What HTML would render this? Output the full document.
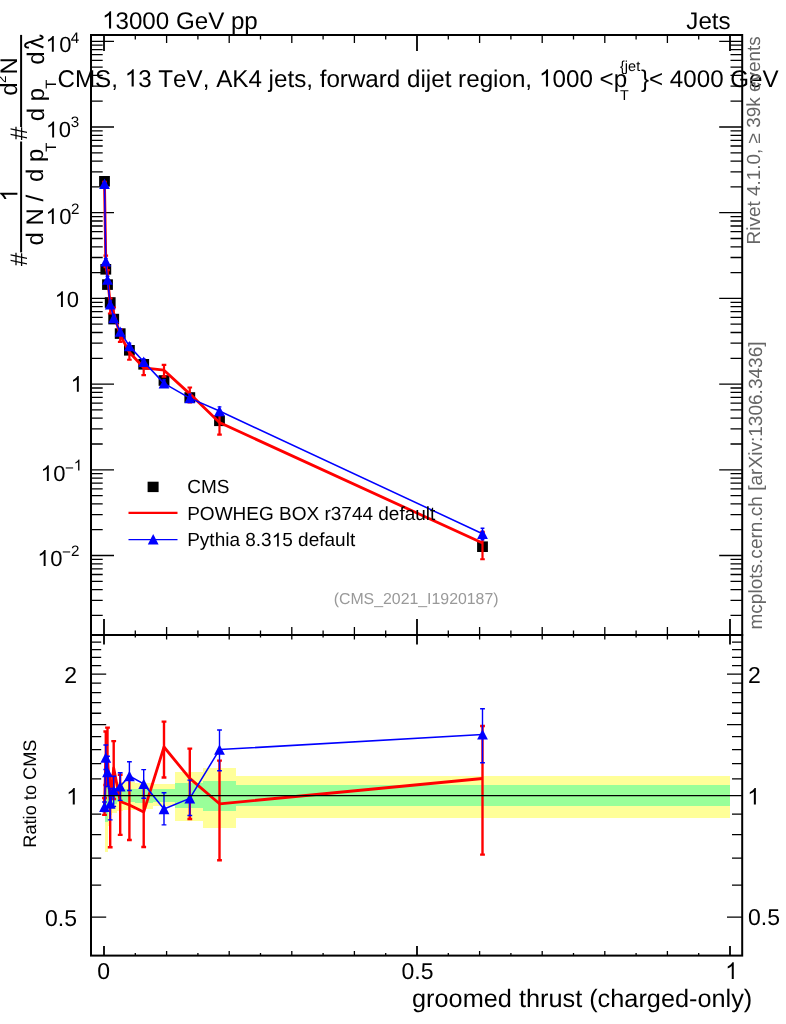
<!DOCTYPE html>
<html><head><meta charset="utf-8"><title>plot</title>
<style>
html,body{margin:0;padding:0;background:#fff;overflow:hidden}
svg{display:block;will-change:transform}
text{font-family:"Liberation Sans",sans-serif;fill:#000;font-kerning:none;text-rendering:geometricPrecision}
</style></head><body>
<svg width="786" height="1024" viewBox="0 0 786 1024">
<rect width="786" height="1024" fill="#fff"/>
<g shape-rendering="crispEdges">
<rect x="105.2" y="762" width="2.30" height="90.30" fill="#ffff99"/>
<rect x="107.5" y="776" width="1.50" height="50.00" fill="#ffff99"/>
<rect x="109.0" y="779" width="2.50" height="36.00" fill="#ffff99"/>
<rect x="111.5" y="780.5" width="5.00" height="32.00" fill="#ffff99"/>
<rect x="116.5" y="781.5" width="6.90" height="29.80" fill="#ffff99"/>
<rect x="123.4" y="781.8" width="11.95" height="28.00" fill="#ffff99"/>
<rect x="135.35" y="782.8" width="17.55" height="26.20" fill="#ffff99"/>
<rect x="152.9" y="784.3" width="22.20" height="21.90" fill="#ffff99"/>
<rect x="175.1" y="772.3" width="28.00" height="48.90" fill="#ffff99"/>
<rect x="203.1" y="767.9" width="32.70" height="59.90" fill="#ffff99"/>
<rect x="235.8" y="775.5" width="494.20" height="42.60" fill="#ffff99"/>
<rect x="105.2" y="781" width="2.30" height="40.50" fill="#99ff99"/>
<rect x="107.5" y="786" width="1.50" height="20.00" fill="#99ff99"/>
<rect x="109.0" y="787" width="2.50" height="17.50" fill="#99ff99"/>
<rect x="111.5" y="788" width="5.00" height="15.50" fill="#99ff99"/>
<rect x="116.5" y="789" width="6.90" height="13.30" fill="#99ff99"/>
<rect x="123.4" y="789.2" width="11.95" height="12.80" fill="#99ff99"/>
<rect x="135.35" y="788.6" width="17.55" height="14.10" fill="#99ff99"/>
<rect x="152.9" y="788.9" width="22.20" height="13.30" fill="#99ff99"/>
<rect x="175.1" y="783.2" width="28.00" height="24.70" fill="#99ff99"/>
<rect x="203.1" y="781.1" width="32.70" height="29.60" fill="#99ff99"/>
<rect x="235.8" y="785.3" width="494.20" height="20.70" fill="#99ff99"/>
</g>
<g stroke="#000" fill="none" stroke-width="2" stroke-linecap="square">
<rect x="91.0" y="35.0" width="651.2" height="920.6"/>
<line x1="91.0" y1="635.0" x2="742.2" y2="635.0"/>
</g>
<g stroke="#000" stroke-width="1.3" fill="none">
<path d="M104.00 35.0v16 M104.00 619.0V644.5 M104.00 955.6v-9.5" stroke-width="1.8"/>
<path d="M135.30 35.0v4.5 M135.30 630.5V637.5 M135.30 955.6v-2.5"/>
<path d="M166.60 35.0v8 M166.60 627.0V639.5 M166.60 955.6v-4.5"/>
<path d="M197.90 35.0v4.5 M197.90 630.5V637.5 M197.90 955.6v-2.5"/>
<path d="M229.20 35.0v8 M229.20 627.0V639.5 M229.20 955.6v-4.5"/>
<path d="M260.50 35.0v4.5 M260.50 630.5V637.5 M260.50 955.6v-2.5"/>
<path d="M291.80 35.0v8 M291.80 627.0V639.5 M291.80 955.6v-4.5"/>
<path d="M323.10 35.0v4.5 M323.10 630.5V637.5 M323.10 955.6v-2.5"/>
<path d="M354.40 35.0v8 M354.40 627.0V639.5 M354.40 955.6v-4.5"/>
<path d="M385.70 35.0v4.5 M385.70 630.5V637.5 M385.70 955.6v-2.5"/>
<path d="M417.00 35.0v16 M417.00 619.0V644.5 M417.00 955.6v-9.5" stroke-width="1.8"/>
<path d="M448.30 35.0v4.5 M448.30 630.5V637.5 M448.30 955.6v-2.5"/>
<path d="M479.60 35.0v8 M479.60 627.0V639.5 M479.60 955.6v-4.5"/>
<path d="M510.90 35.0v4.5 M510.90 630.5V637.5 M510.90 955.6v-2.5"/>
<path d="M542.20 35.0v8 M542.20 627.0V639.5 M542.20 955.6v-4.5"/>
<path d="M573.50 35.0v4.5 M573.50 630.5V637.5 M573.50 955.6v-2.5"/>
<path d="M604.80 35.0v8 M604.80 627.0V639.5 M604.80 955.6v-4.5"/>
<path d="M636.10 35.0v4.5 M636.10 630.5V637.5 M636.10 955.6v-2.5"/>
<path d="M667.40 35.0v8 M667.40 627.0V639.5 M667.40 955.6v-4.5"/>
<path d="M698.70 35.0v4.5 M698.70 630.5V637.5 M698.70 955.6v-2.5"/>
<path d="M730.00 35.0v16 M730.00 619.0V644.5 M730.00 955.6v-9.5" stroke-width="1.8"/>
<path d="M91.0 615.40h11.7 M742.2 615.40h-11.7"/>
<path d="M91.0 600.31h11.7 M742.2 600.31h-11.7"/>
<path d="M91.0 589.60h11.7 M742.2 589.60h-11.7"/>
<path d="M91.0 581.30h11.7 M742.2 581.30h-11.7"/>
<path d="M91.0 574.51h11.7 M742.2 574.51h-11.7"/>
<path d="M91.0 568.78h11.7 M742.2 568.78h-11.7"/>
<path d="M91.0 563.81h11.7 M742.2 563.81h-11.7"/>
<path d="M91.0 559.42h11.7 M742.2 559.42h-11.7"/>
<path d="M91.0 555.50h23 M742.2 555.50h-23"/>
<path d="M91.0 529.70h11.7 M742.2 529.70h-11.7"/>
<path d="M91.0 514.61h11.7 M742.2 514.61h-11.7"/>
<path d="M91.0 503.90h11.7 M742.2 503.90h-11.7"/>
<path d="M91.0 495.60h11.7 M742.2 495.60h-11.7"/>
<path d="M91.0 488.81h11.7 M742.2 488.81h-11.7"/>
<path d="M91.0 483.08h11.7 M742.2 483.08h-11.7"/>
<path d="M91.0 478.11h11.7 M742.2 478.11h-11.7"/>
<path d="M91.0 473.72h11.7 M742.2 473.72h-11.7"/>
<path d="M91.0 469.80h23 M742.2 469.80h-23"/>
<path d="M91.0 444.00h11.7 M742.2 444.00h-11.7"/>
<path d="M91.0 428.91h11.7 M742.2 428.91h-11.7"/>
<path d="M91.0 418.20h11.7 M742.2 418.20h-11.7"/>
<path d="M91.0 409.90h11.7 M742.2 409.90h-11.7"/>
<path d="M91.0 403.11h11.7 M742.2 403.11h-11.7"/>
<path d="M91.0 397.38h11.7 M742.2 397.38h-11.7"/>
<path d="M91.0 392.41h11.7 M742.2 392.41h-11.7"/>
<path d="M91.0 388.02h11.7 M742.2 388.02h-11.7"/>
<path d="M91.0 384.10h23 M742.2 384.10h-23"/>
<path d="M91.0 358.30h11.7 M742.2 358.30h-11.7"/>
<path d="M91.0 343.21h11.7 M742.2 343.21h-11.7"/>
<path d="M91.0 332.50h11.7 M742.2 332.50h-11.7"/>
<path d="M91.0 324.20h11.7 M742.2 324.20h-11.7"/>
<path d="M91.0 317.41h11.7 M742.2 317.41h-11.7"/>
<path d="M91.0 311.68h11.7 M742.2 311.68h-11.7"/>
<path d="M91.0 306.71h11.7 M742.2 306.71h-11.7"/>
<path d="M91.0 302.32h11.7 M742.2 302.32h-11.7"/>
<path d="M91.0 298.40h23 M742.2 298.40h-23"/>
<path d="M91.0 272.60h11.7 M742.2 272.60h-11.7"/>
<path d="M91.0 257.51h11.7 M742.2 257.51h-11.7"/>
<path d="M91.0 246.80h11.7 M742.2 246.80h-11.7"/>
<path d="M91.0 238.50h11.7 M742.2 238.50h-11.7"/>
<path d="M91.0 231.71h11.7 M742.2 231.71h-11.7"/>
<path d="M91.0 225.98h11.7 M742.2 225.98h-11.7"/>
<path d="M91.0 221.01h11.7 M742.2 221.01h-11.7"/>
<path d="M91.0 216.62h11.7 M742.2 216.62h-11.7"/>
<path d="M91.0 212.70h23 M742.2 212.70h-23"/>
<path d="M91.0 186.90h11.7 M742.2 186.90h-11.7"/>
<path d="M91.0 171.81h11.7 M742.2 171.81h-11.7"/>
<path d="M91.0 161.10h11.7 M742.2 161.10h-11.7"/>
<path d="M91.0 152.80h11.7 M742.2 152.80h-11.7"/>
<path d="M91.0 146.01h11.7 M742.2 146.01h-11.7"/>
<path d="M91.0 140.28h11.7 M742.2 140.28h-11.7"/>
<path d="M91.0 135.31h11.7 M742.2 135.31h-11.7"/>
<path d="M91.0 130.92h11.7 M742.2 130.92h-11.7"/>
<path d="M91.0 127.00h23 M742.2 127.00h-23"/>
<path d="M91.0 101.20h11.7 M742.2 101.20h-11.7"/>
<path d="M91.0 86.11h11.7 M742.2 86.11h-11.7"/>
<path d="M91.0 75.40h11.7 M742.2 75.40h-11.7"/>
<path d="M91.0 67.10h11.7 M742.2 67.10h-11.7"/>
<path d="M91.0 60.31h11.7 M742.2 60.31h-11.7"/>
<path d="M91.0 54.58h11.7 M742.2 54.58h-11.7"/>
<path d="M91.0 49.61h11.7 M742.2 49.61h-11.7"/>
<path d="M91.0 45.22h11.7 M742.2 45.22h-11.7"/>
<path d="M91.0 41.30h23 M742.2 41.30h-23"/>
<path d="M91.0 917.07h15.2 M742.2 917.07h-15.2"/>
<path d="M91.0 885.12h10.2 M742.2 885.12h-10.2"/>
<path d="M91.0 858.10h10.2 M742.2 858.10h-10.2"/>
<path d="M91.0 834.70h10.2 M742.2 834.70h-10.2"/>
<path d="M91.0 814.06h10.2 M742.2 814.06h-10.2"/>
<path d="M91.0 778.90h10.2 M742.2 778.90h-10.2"/>
<path d="M91.0 763.65h10.2 M742.2 763.65h-10.2"/>
<path d="M91.0 749.62h10.2 M742.2 749.62h-10.2"/>
<path d="M91.0 736.64h10.2 M742.2 736.64h-10.2"/>
<path d="M91.0 724.55h15.2 M742.2 724.55h-15.2"/>
<path d="M91.0 713.24h10.2 M742.2 713.24h-10.2"/>
<path d="M91.0 702.61h10.2 M742.2 702.61h-10.2"/>
<path d="M91.0 692.60h10.2 M742.2 692.60h-10.2"/>
<path d="M91.0 683.12h10.2 M742.2 683.12h-10.2"/>
<path d="M91.0 674.13h15.2 M742.2 674.13h-15.2"/>
<path d="M91.0 665.58h10.2 M742.2 665.58h-10.2"/>
<path d="M91.0 657.43h10.2 M742.2 657.43h-10.2"/>
<path d="M91.0 649.64h10.2 M742.2 649.64h-10.2"/>
<path d="M91.0 642.18h10.2 M742.2 642.18h-10.2"/>
</g>
<clipPath id="cm"><rect x="92" y="36" width="649" height="598"/></clipPath>
<clipPath id="cr"><rect x="92" y="636" width="649" height="318.6"/></clipPath>
<g clip-path="url(#cm)">
<rect x="99.10" y="176.00" width="10.8" height="10.6" fill="#000"/>
<rect x="100.40" y="264.00" width="10.8" height="10.6" fill="#000"/>
<rect x="102.10" y="279.30" width="10.8" height="10.6" fill="#000"/>
<rect x="104.80" y="297.20" width="10.8" height="10.6" fill="#000"/>
<rect x="108.30" y="313.80" width="10.8" height="10.6" fill="#000"/>
<rect x="114.80" y="328.30" width="10.8" height="10.6" fill="#000"/>
<rect x="124.00" y="345.00" width="10.8" height="10.6" fill="#000"/>
<rect x="138.30" y="359.00" width="10.8" height="10.6" fill="#000"/>
<rect x="158.60" y="375.20" width="10.8" height="10.6" fill="#000"/>
<rect x="184.40" y="392.20" width="10.8" height="10.6" fill="#000"/>
<rect x="214.10" y="415.50" width="10.8" height="10.6" fill="#000"/>
<rect x="477.10" y="541.40" width="10.8" height="10.6" fill="#000"/>
<polyline points="104.50,183.62 105.80,261.31 107.50,276.40 110.20,304.07 113.70,313.24 120.20,334.85 129.40,352.30 143.70,367.78 164.00,370.18 189.80,393.85 219.50,422.54 482.50,543.07" stroke="#ff0000" stroke-width="2.8" fill="none" stroke-linejoin="round"/>
<path d="M104.50 181.81V185.40 M102.20 181.81h4.6 M102.20 185.40h4.6 M105.80 255.69V267.05 M103.50 255.69h4.6 M103.50 267.05h4.6 M107.50 270.16V282.56 M105.20 270.16h4.6 M105.20 282.56h4.6 M110.20 298.25V313.48 M107.90 298.25h4.6 M107.90 313.48h4.6 M113.70 307.52V319.82 M111.40 307.52h4.6 M111.40 319.82h4.6 M120.20 329.16V341.95 M117.90 329.16h4.6 M117.90 341.95h4.6 M129.40 346.63V359.73 M127.10 346.63h4.6 M127.10 359.73h4.6 M143.70 362.26V375.22 M141.40 362.26h4.6 M141.40 375.22h4.6 M164.00 364.78V376.66 M161.70 364.78h4.6 M161.70 376.66h4.6 M189.80 387.52V402.47 M187.50 387.52h4.6 M187.50 402.47h4.6 M219.50 413.37V434.54 M217.20 413.37h4.6 M217.20 434.54h4.6 M482.50 531.92V559.23 M480.20 531.92h4.6 M480.20 559.23h4.6" stroke="#ff0000" stroke-width="2.2" fill="none"/>
<polyline points="104.50,183.68 105.80,261.21 107.50,279.59 110.20,304.18 113.70,318.02 120.20,331.60 129.40,346.14 143.70,361.82 164.00,383.35 189.80,398.09 219.50,411.03 482.50,533.70" stroke="#0000ff" stroke-width="1.55" fill="none" stroke-linejoin="round"/>
<path d="M104.50 182.66V184.70 M102.60 182.66h3.8 M102.60 184.70h3.8 M105.80 258.55V263.76 M103.90 258.55h3.8 M103.90 263.76h3.8 M107.50 276.25V282.67 M105.60 276.25h3.8 M105.60 282.67h3.8 M110.20 300.99V307.66 M108.30 300.99h3.8 M108.30 307.66h3.8 M113.70 315.00V321.42 M111.80 315.00h3.8 M111.80 321.42h3.8 M120.20 328.76V334.62 M118.30 328.76h3.8 M118.30 334.62h3.8 M129.40 343.12V349.22 M127.50 343.12h3.8 M127.50 349.22h3.8 M143.70 358.78V364.85 M141.80 358.78h3.8 M141.80 364.85h3.8 M164.00 379.88V386.72 M162.10 379.88h3.8 M162.10 386.72h3.8 M189.80 394.21V401.73 M187.90 394.21h3.8 M187.90 401.73h3.8 M219.50 406.87V415.51 M217.60 406.87h3.8 M217.60 415.51h3.8 M482.50 528.26V539.73 M480.60 528.26h3.8 M480.60 539.73h3.8" stroke="#0000ff" stroke-width="1.3" fill="none"/>
<path d="M99.10 188.88L109.90 188.88L104.50 178.48Z" fill="#0000ff"/>
<path d="M100.40 266.41L111.20 266.41L105.80 256.01Z" fill="#0000ff"/>
<path d="M102.10 284.79L112.90 284.79L107.50 274.39Z" fill="#0000ff"/>
<path d="M104.80 309.38L115.60 309.38L110.20 298.98Z" fill="#0000ff"/>
<path d="M108.30 323.22L119.10 323.22L113.70 312.82Z" fill="#0000ff"/>
<path d="M114.80 336.80L125.60 336.80L120.20 326.40Z" fill="#0000ff"/>
<path d="M124.00 351.34L134.80 351.34L129.40 340.94Z" fill="#0000ff"/>
<path d="M138.30 367.02L149.10 367.02L143.70 356.62Z" fill="#0000ff"/>
<path d="M158.60 388.55L169.40 388.55L164.00 378.15Z" fill="#0000ff"/>
<path d="M184.40 403.29L195.20 403.29L189.80 392.89Z" fill="#0000ff"/>
<path d="M214.10 416.23L224.90 416.23L219.50 405.83Z" fill="#0000ff"/>
<path d="M477.10 538.90L487.90 538.90L482.50 528.50Z" fill="#0000ff"/>
</g>
<g clip-path="url(#cr)">
<polyline points="104.50,806.50 105.80,758.00 107.50,757.00 110.20,803.00 113.70,768.00 120.20,801.50 129.40,805.00 143.70,812.00 164.00,747.00 189.80,778.40 219.50,803.80 482.50,778.50" stroke="#ff0000" stroke-width="2.8" fill="none" stroke-linejoin="round"/>
<path d="M104.50 798.00V814.90 M102.10 798.00h4.8 M102.10 814.90h4.8 M105.80 731.50V785.00 M103.40 731.50h4.8 M103.40 785.00h4.8 M107.50 727.60V786.00 M105.10 727.60h4.8 M105.10 786.00h4.8 M110.20 775.60V847.30 M107.80 775.60h4.8 M107.80 847.30h4.8 M113.70 741.10V799.00 M111.30 741.10h4.8 M111.30 799.00h4.8 M120.20 774.70V834.90 M117.80 774.70h4.8 M117.80 834.90h4.8 M129.40 778.30V840.00 M127.00 778.30h4.8 M127.00 840.00h4.8 M143.70 786.00V847.00 M141.30 786.00h4.8 M141.30 847.00h4.8 M164.00 721.60V777.50 M161.60 721.60h4.8 M161.60 777.50h4.8 M189.80 748.60V819.00 M187.40 748.60h4.8 M187.40 819.00h4.8 M219.50 760.60V860.30 M217.10 760.60h4.8 M217.10 860.30h4.8 M482.50 726.00V854.60 M480.10 726.00h4.8 M480.10 854.60h4.8" stroke="#ff0000" stroke-width="2.4" fill="none"/>
<polyline points="104.50,806.80 105.80,757.50 107.50,772.00 110.20,803.50 113.70,790.50 120.20,786.20 129.40,776.00 143.70,783.90 164.00,809.00 189.80,798.40 219.50,749.60 482.50,734.40" stroke="#0000ff" stroke-width="1.55" fill="none" stroke-linejoin="round"/>
<path d="M104.50 802.00V811.60 M102.10 802.00h4.8 M102.10 811.60h4.8 M105.80 745.00V769.50 M103.40 745.00h4.8 M103.40 769.50h4.8 M107.50 756.30V786.50 M105.10 756.30h4.8 M105.10 786.50h4.8 M110.20 788.50V819.90 M107.80 788.50h4.8 M107.80 819.90h4.8 M113.70 776.30V806.50 M111.30 776.30h4.8 M111.30 806.50h4.8 M120.20 772.80V800.40 M117.80 772.80h4.8 M117.80 800.40h4.8 M129.40 761.80V790.50 M127.00 761.80h4.8 M127.00 790.50h4.8 M143.70 769.60V798.20 M141.30 769.60h4.8 M141.30 798.20h4.8 M164.00 792.70V824.90 M161.60 792.70h4.8 M161.60 824.90h4.8 M189.80 780.10V815.50 M187.40 780.10h4.8 M187.40 815.50h4.8 M219.50 730.00V770.70 M217.10 730.00h4.8 M217.10 770.70h4.8 M482.50 708.80V762.80 M480.10 708.80h4.8 M480.10 762.80h4.8" stroke="#0000ff" stroke-width="1.4" fill="none"/>
<path d="M99.10 812.00L109.90 812.00L104.50 801.60Z" fill="#0000ff"/>
<path d="M100.40 762.70L111.20 762.70L105.80 752.30Z" fill="#0000ff"/>
<path d="M102.10 777.20L112.90 777.20L107.50 766.80Z" fill="#0000ff"/>
<path d="M104.80 808.70L115.60 808.70L110.20 798.30Z" fill="#0000ff"/>
<path d="M108.30 795.70L119.10 795.70L113.70 785.30Z" fill="#0000ff"/>
<path d="M114.80 791.40L125.60 791.40L120.20 781.00Z" fill="#0000ff"/>
<path d="M124.00 781.20L134.80 781.20L129.40 770.80Z" fill="#0000ff"/>
<path d="M138.30 789.10L149.10 789.10L143.70 778.70Z" fill="#0000ff"/>
<path d="M158.60 814.20L169.40 814.20L164.00 803.80Z" fill="#0000ff"/>
<path d="M184.40 803.60L195.20 803.60L189.80 793.20Z" fill="#0000ff"/>
<path d="M214.10 754.80L224.90 754.80L219.50 744.40Z" fill="#0000ff"/>
<path d="M477.10 739.60L487.90 739.60L482.50 729.20Z" fill="#0000ff"/>
</g>
<line x1="91.0" y1="795.6" x2="742.2" y2="795.6" stroke="#000" stroke-width="1.4"/>
<rect x="147.6" y="481.7" width="11" height="10.4" fill="#000"/>
<line x1="128.5" y1="512.8" x2="177.5" y2="512.8" stroke="#ff0000" stroke-width="2.2"/>
<line x1="128.5" y1="539.6" x2="177.5" y2="539.6" stroke="#0000ff" stroke-width="1.3"/>
<path d="M147.80 544.40L158.60 544.40L153.20 534.00Z" fill="#0000ff"/>
<text x="187.20" y="492.60" font-size="19" xml:space="preserve">CMS</text>
<text x="187.20" y="519.60" font-size="19" xml:space="preserve">POWHEG BOX r3744 default</text>
<text x="187.20" y="546.40" font-size="19">Pythia 8.3</text><text x="282.27" y="546.40" font-size="19" xml:space="preserve">5 default</text><path d="M278.78 546.40 L277.11 546.40 L277.11 535.76 Q276.51 536.33 275.53 536.91 Q274.55 537.49 273.77 537.77 L273.77 536.16 Q275.17 535.50 276.22 534.56 Q277.27 533.62 277.70 532.74 L278.78 532.74Z" fill="#000"/>
<text x="115.53" y="28.50" font-size="24.15" xml:space="preserve">3000 GeV pp</text><path d="M111.10 28.50 L108.98 28.50 L108.98 14.97 Q108.21 15.71 106.96 16.44 Q105.72 17.17 104.73 17.53 L104.73 15.48 Q106.51 14.65 107.84 13.45 Q109.18 12.26 109.73 11.14 L111.10 11.14Z" fill="#000"/>
<text x="730.6" y="28.6" font-size="24.15" text-anchor="end">Jets</text>
<text x="57.50" y="86.60" font-size="24.2">CMS, </text><text x="138.18" y="86.60" font-size="24.2">3 TeV, AK4 jets, forward dijet region, </text><text x="552.49" y="86.60" font-size="24.2" xml:space="preserve">000 &lt;p</text><path d="M133.74 86.60 L131.61 86.60 L131.61 73.05 Q130.84 73.78 129.60 74.51 Q128.35 75.25 127.36 75.61 L127.36 73.55 Q129.14 72.72 130.48 71.52 Q131.81 70.33 132.37 69.21 L133.74 69.21Z M548.04 86.60 L545.92 86.60 L545.92 73.05 Q545.15 73.78 543.90 74.51 Q542.65 75.25 541.66 75.61 L541.66 73.55 Q543.45 72.72 544.78 71.52 Q546.12 70.33 546.67 69.21 L548.04 69.21Z" fill="#000"/>
<text x="620.0" y="70.8" font-size="14.5">{jet</text>
<text x="619.9" y="99.6" font-size="14.3">T</text>
<text x="641.0" y="86.6" font-size="24.15">}&lt; 4000 GeV</text>
<text x="416.1" y="604.3" font-size="15.86" text-anchor="middle" style="fill:#999">(CMS_2021_I1920187)</text>
<text x="103.6" y="978.9" font-size="23" text-anchor="middle">0</text>
<text x="417.5" y="978.9" font-size="23" text-anchor="middle">0.5</text>
<path d="M733.77 978.90 L731.75 978.90 L731.75 966.02 Q731.02 966.71 729.84 967.41 Q728.65 968.11 727.71 968.46 L727.71 966.50 Q729.40 965.70 730.67 964.57 Q731.94 963.43 732.47 962.37 L733.77 962.37Z" fill="#000"/>
<text x="752.3" y="1006.9" font-size="25.3" text-anchor="end">groomed thrust (charged-only)</text>
<text x="77" y="683" font-size="23" text-anchor="end">2</text>
<path d="M74.78 804.60 L72.76 804.60 L72.76 791.72 Q72.02 792.41 70.84 793.11 Q69.66 793.81 68.71 794.16 L68.71 792.20 Q70.41 791.40 71.68 790.27 Q72.95 789.13 73.47 788.07 L74.78 788.07Z" fill="#000"/>
<text x="77" y="925.8" font-size="23" text-anchor="end">0.5</text>
<text x="748" y="683" font-size="23">2</text>
<path d="M755.87 804.60 L753.85 804.60 L753.85 791.72 Q753.12 792.41 751.93 793.11 Q750.75 793.81 749.80 794.16 L749.80 792.20 Q751.50 791.40 752.77 790.27 Q754.04 789.13 754.57 788.07 L755.87 788.07Z" fill="#000"/>
<text x="748" y="925.4" font-size="23">0.5</text>
<text transform="translate(35.8,793.6) rotate(-90)" font-size="18.2" text-anchor="middle">Ratio to CMS</text>
<path d="M53.80 51.70 L51.86 51.70 L51.86 39.38 Q51.16 40.04 50.03 40.71 Q48.90 41.38 48.00 41.71 L48.00 39.84 Q49.62 39.08 50.83 37.99 Q52.05 36.91 52.55 35.89 L53.80 35.89Z" fill="#000"/>
<text x="59.24" y="51.70" font-size="22" xml:space="preserve">0</text>
<text x="70.70" y="42.70" font-size="15.2" xml:space="preserve">4</text>
<path d="M54.10 137.40 L52.16 137.40 L52.16 125.08 Q51.46 125.74 50.33 126.41 Q49.20 127.08 48.30 127.41 L48.30 125.54 Q49.92 124.78 51.13 123.69 Q52.35 122.61 52.85 121.59 L54.10 121.59Z" fill="#000"/>
<text x="58.74" y="137.40" font-size="22" xml:space="preserve">0</text>
<text x="70.70" y="126.90" font-size="15.2" xml:space="preserve">3</text>
<path d="M53.80 224.00 L51.86 224.00 L51.86 211.68 Q51.16 212.34 50.03 213.01 Q48.90 213.68 48.00 214.01 L48.00 212.14 Q49.62 211.38 50.83 210.29 Q52.05 209.21 52.55 208.19 L53.80 208.19Z" fill="#000"/>
<text x="59.24" y="224.00" font-size="22" xml:space="preserve">0</text>
<text x="70.90" y="213.60" font-size="15.2" xml:space="preserve">2</text>
<path d="M62.90 307.00 L60.96 307.00 L60.96 294.68 Q60.26 295.34 59.13 296.01 Q58.00 296.68 57.10 297.01 L57.10 295.14 Q58.72 294.38 59.93 293.29 Q61.15 292.21 61.65 291.19 L62.90 291.19Z" fill="#000"/>
<text x="66.84" y="307.00" font-size="22" xml:space="preserve">0</text>
<path d="M78.80 391.80 L76.86 391.80 L76.86 379.48 Q76.16 380.14 75.03 380.81 Q73.90 381.48 73.00 381.81 L73.00 379.94 Q74.62 379.18 75.83 378.09 Q77.05 377.01 77.55 375.99 L78.80 375.99Z" fill="#000"/>
<path d="M48.80 481.10 L46.86 481.10 L46.86 468.78 Q46.16 469.44 45.03 470.11 Q43.90 470.78 43.00 471.11 L43.00 469.24 Q44.62 468.48 45.83 467.39 Q47.05 466.31 47.55 465.29 L48.80 465.29Z" fill="#000"/>
<text x="53.34" y="481.10" font-size="22" xml:space="preserve">0</text>
<text x="64.90" y="472.80" font-size="15.2" xml:space="preserve">−</text>
<path d="M79.44 470.40 L78.10 470.40 L78.10 461.89 Q77.62 462.35 76.84 462.81 Q76.06 463.27 75.43 463.50 L75.43 462.21 Q76.55 461.68 77.39 460.93 Q78.23 460.18 78.58 459.47 L79.44 459.47Z" fill="#000"/>
<path d="M45.60 565.90 L43.66 565.90 L43.66 553.58 Q42.96 554.24 41.83 554.91 Q40.70 555.58 39.80 555.91 L39.80 554.04 Q41.42 553.28 42.63 552.19 Q43.85 551.11 44.35 550.09 L45.60 550.09Z" fill="#000"/>
<text x="50.14" y="565.90" font-size="22" xml:space="preserve">0</text>
<text x="62.10" y="557.40" font-size="15.2" xml:space="preserve">−</text>
<text x="70.98" y="556.10" font-size="15.2" xml:space="preserve">2</text>
<text transform="translate(760.0,244.4) rotate(-90)" font-size="18.93" style="fill:#666">Rivet 4.1.0, ≥ 39k events</text>
<text transform="translate(762.2,629.6) rotate(-90)" font-size="19.07" style="fill:#666">mcplots.cern.ch [arXiv:1306.3436]</text>
<g transform="translate(0,270) rotate(-90)">
<text x="3.9" y="27.4" font-size="24">#</text>
<line x1="17.6" y1="21.1" x2="128.5" y2="21.1" stroke="#000" stroke-width="2"/>
<path d="M77.27 17.40 L75.16 17.40 L75.16 3.96 Q74.40 4.68 73.16 5.41 Q71.92 6.14 70.94 6.50 L70.94 4.46 Q72.71 3.63 74.03 2.45 Q75.36 1.26 75.91 0.15 L77.27 0.15Z" fill="#000"/>
<text x="24.4" y="43.3" font-size="24">d N /</text>
<text x="88.0" y="43.3" font-size="24">d p</text>
<text x="118.3" y="56" font-size="15">T</text>
<text x="130.1" y="27.4" font-size="24">#</text>
<line x1="143" y1="21.1" x2="235.1" y2="21.1" stroke="#000" stroke-width="2"/>
<text x="174.2" y="16.9" font-size="24">d</text>
<text x="187.0" y="6.1" font-size="13.5">2</text>
<text x="195.4" y="16.9" font-size="24">N</text>
<text x="148.7" y="43.6" font-size="24">d p</text>
<text x="181.2" y="56.4" font-size="15">T</text>
<text x="205.3" y="43.6" font-size="24">d</text>
<path d="M222.5 28.9 C222.0 26 223.5 25.0 224.8 25.1 C226.3 25.2 227.0 26.5 227.6 28.6 L230.8 40.2 C231.5 42.6 232.6 43.2 233.4 42.4 C234.0 41.8 234.4 40.8 234.5 39.6 M227.4 31.2 L222.5 43.4" stroke="#000" stroke-width="1.9" fill="none" stroke-linejoin="round"/>
</g>
</svg>
</body></html>
